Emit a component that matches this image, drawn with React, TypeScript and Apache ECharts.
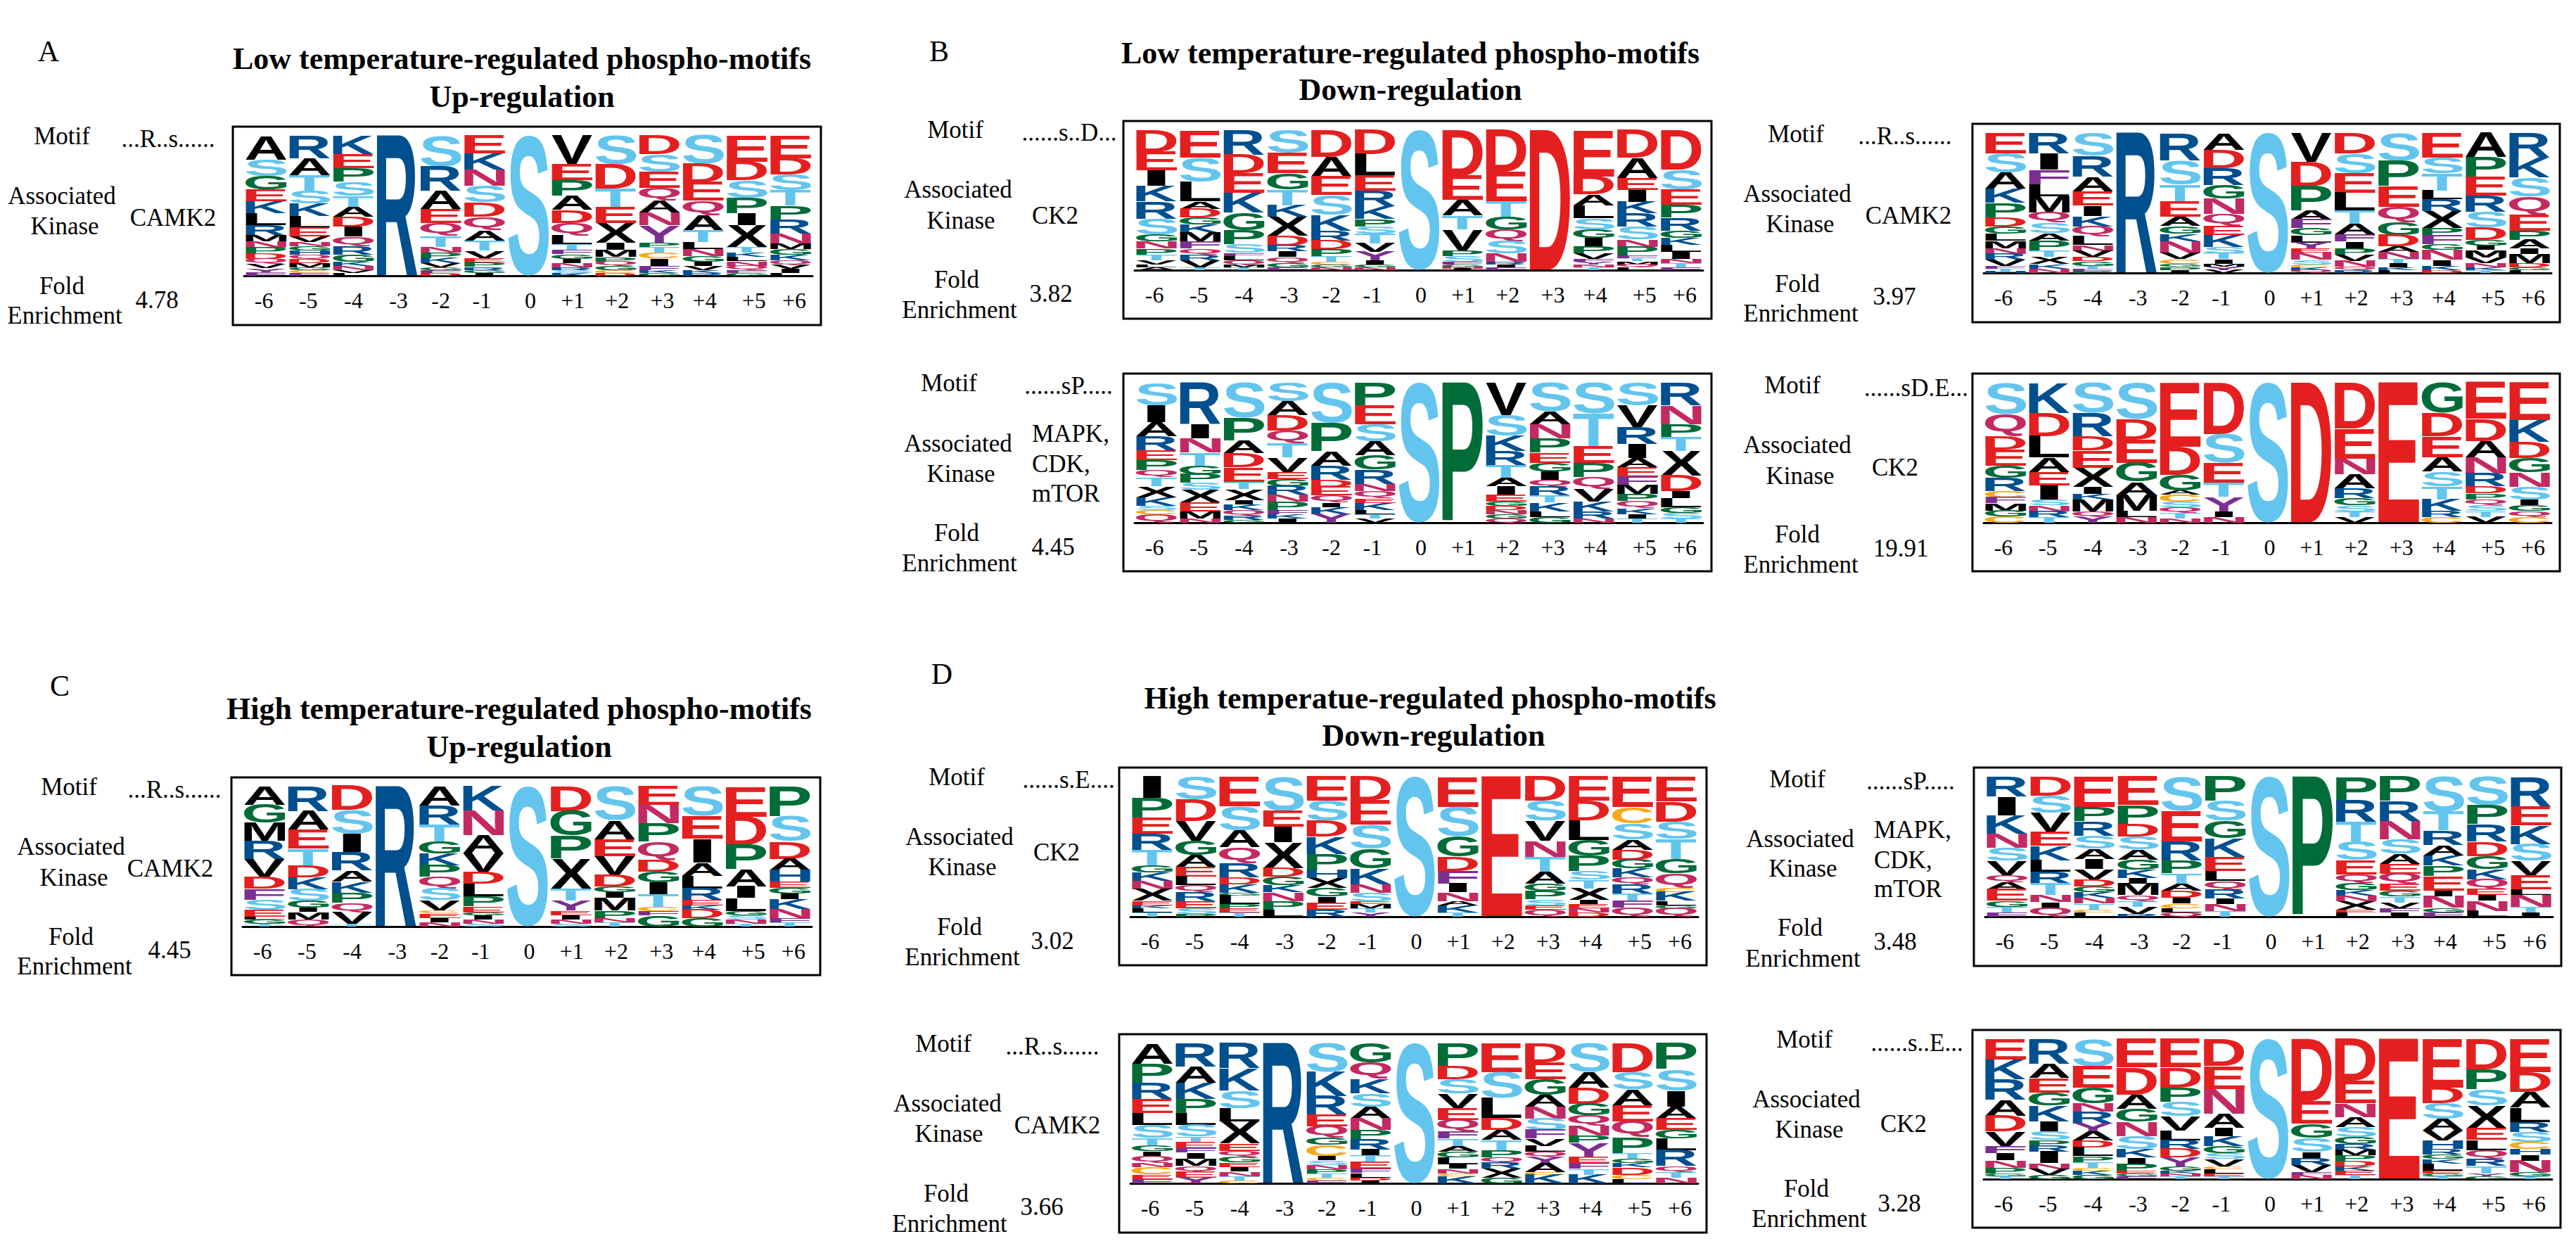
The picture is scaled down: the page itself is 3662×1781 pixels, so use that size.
import React, { useEffect, useRef } from "react";
import * as echarts from "echarts";

const positions = ["-6", "-5", "-4", "-3", "-2", "-1", "0", "+1", "+2", "+3", "+4", "+5", "+6"];

const logoA = [
  "A16 S11 G9 E8 K8 L8 R7 M4 N4 P4 D3.5 Q3.5 V3 Y2.5 F2.5",
  "R16 A12 T11 S9 K9 L8 E6 V4 N3 G3 H3 Q3 D3 M3 G2 C2 F2",
  "K13 E10 P10 S10 T8 A7 D7 I7 Q7 R6 G5 K3 N3 V2 L2",
  "R100",
  "S22 R17 A13 E10 Q9 T8 N4 P4 K3.5 V3 G2 F2 D2",
  "E12 K11 N11 S11 D10 Q9 A7 T7 V5 E3 P3 R2 G2 I2",
  "S100",
  "V20 E11 P11 A10 D9 Q9 L6 T4 F3 G3 I3 N3 R2 S2 K2",
  "S20 D17 T13 E11 X14 I5 M5 P3 Q3 G3 C2 D2",
  "D13 S12 E11 Q9 A8 N9 Y12 P3 T4 C4 I5 F3 K2 G2",
  "S20 D13 E13 Q10 A11 T8 L5 N5 G4 I3 V3 K2 R2",
  "E18 D13 S12 P11 I8 X15 T4 K3 L3 N3 Q3 F2 G2",
  "E16 D12 S11 T11 P10 R10 N7 M4 G4 K4 Q3 V3 I3 L2",
];

const logoB1 = [
  "D15 E13 I11 K11 R12 S11 G5 N5 P4 T4 V3 L2 A2",
  "E19 S17 L14 A5 D6 G5 K6 M6 F5 Q4 R4 V5 T2",
  "R17 D13 E14 K14 G12 P10 S6 F2 L3 Q3 M2 T2",
  "S16 E14 G11 T11 K8 X13 D7 R4 I4 Q4 G3 F2",
  "D19 A14 E13 S14 K11 R7 D6 P5 T4 C2 G2 N2",
  "D17 L15 E11 R11 K9 P5 S5 T7 V6 Y6 I3 G2 N2",
  "S100",
  "D33 E17 A11 T10 V15 P4 S4 F2 G2 N1 I1",
  "D30 E21 T11 G9 Q8 S9 N6 R2 I2 F2",
  "D100",
  "E33 D13 A8 L9 S8 G6 I6 P5 V4 F2 Y2 N2 T2",
  "D19 A14 E8 I8 K8 R9 S9 N5 P6 F2 T2 M2 Q2 L2",
  "D28 S14 E11 P9 R9 G5 K5 L5 I5 N3 T3 F2",
];

const logoB2 = [
  "E14 S13 A11 K10 P10 D6 G5 L5 M5 N4 R4 V4 F2 T2 H1",
  "R14 I11 F10 L8 M11 Q7 S7 A5 P7 T4 X5 K3 N3",
  "S16 R14 A10 E10 I7 K7 Q7 L6 N4 V4 D3 G3 T2 F2 P1",
  "R100",
  "R18 S16 T11 E10 A6 G5 K5 N8 V4 C3 G2 P2 I2",
  "A11 D12 R11 G9 N10 Q8 E6 K8 S4 T4 I3 M2 Y2 V2",
  "S100",
  "V20 D17 P17 A6 F6 G5 L5 Y4 E3 N5 S3 C2 K2 Q2",
  "D14 S13 E13 L12 T9 A7 F5 I5 P4 V4 N4 Q2 R2",
  "S20 P18 E15 Q11 G9 D8 A4 N5 T3 I3 K2 L2",
  "E17 S11 T12 L6 R8 X12 P5 F6 G4 N7 I4 K3 D2",
  "A17 P14 E13 R11 S11 D9 G4 I3 M5 V4 N3 K2 T2",
  "R17 K14 S13 Q13 E11 P6 A6 I4 M6 D3 G2 L2",
];

const logoB3 = [
  "S16 I12 A10 R10 E7 P7 Q5 T6 X8 K6 S3 C3 Q6",
  "R29 I10 N10 T9 G6 P6 S5 X9 E6 M5 N3",
  "S25 P16 A9 D10 E10 T5 X8 I3 K4 Q4 R3 G2",
  "S13 A10 D11 Q9 T10 V10 E5 G5 R6 N5 P6 F3 K3 I3",
  "S28 P20 A10 R10 D5 E6 Q5 I3 K5 Y6",
  "P16 E13 S12 A10 G10 R10 N5 Q5 E3 K5 L3 T3 V3",
  "S100",
  "P100",
  "V23 S15 K11 R10 T9 A6 I6 E5 G3 D3 N3 G3 Q3",
  "S20 A9 N10 P10 E7 G6 I6 Q5 R6 T5 K6 L4 G4",
  "S22 T23 E12 P10 Q8 V9 K7 R5 N3",
  "S16 V15 R12 I10 A6 E7 F6 M6 P5 Q5 K4 I3 T3",
  "R16 N13 P9 T10 X17 D11 I5 L6 G4 S4 T3",
];

const logoB4 = [
  "S21 Q15 D9 E11 G8 R9 C4 F4 M5 G4 C4",
  "K21 D16 L15 A10 E9 I10 S4 N4 R4 T4",
  "S21 R16 D10 E12 X13 I5 K4 M8 Q4 Y4",
  "S25 D14 E16 G13 A9 M11 L4 N4",
  "E46 D20 G11 A3 C5 S4 Q4 T4 N3",
  "D36 S20 E14 T10 Y10 I4 N4",
  "S100",
  "D100",
  "D32 E21 N11 A10 R7 G5 S4 T4 V4",
  "E100",
  "G21 D16 E14 A10 S10 T9 K8 R4 C4",
  "E25 D15 A11 N11 R9 D5 P4 Q4 S4 T4 V4",
  "E26 K15 D11 G10 N10 S9 I4 G4 Q4 C4",
];

const logoC = [
  "A13 G13 M13 R13 V13 D8 F8 S7 E5 L2 G3 T2",
  "R17 A13 E13 T12 D8 K8 S8 G5 I3 M5 Q5",
  "D17 S17 I13 R13 A8 K8 P7 Q7 V8 T2",
  "R100",
  "A13 R13 T12 G8 K8 P8 Q8 S8 V7 C2 E3 I3 N3",
  "K17 N17 A13 V13 D8 L9 P7 E4 G2 I3 N3 S2",
  "S100",
  "D17 G17 P16 X21 T8 Y7 E3 I3 N3 S2",
  "S24 A13 E12 V13 D8 G4 I4 M9 P5 N3 T3",
  "E13 N13 P13 Q13 D8 G8 I8 T9 C3 F3 G8",
  "S21 E16 I17 A9 L9 R8 E4 K3 D6 G6",
  "E21 D20 P17 A12 I8 L9 G3 S3 N3 T2",
  "P21 S17 D12 A8 H8 E4 G4 I4 K7 N6 F3 T3",
];

const logoD1 = [
  "I15 P14 E11 R11 T11 G5 K6 N6 X8 E3 K2 L3 T3",
  "S16 D15 V14 G10 A8 E7 L6 Q5 R6 E5 S4 P2",
  "E21 S17 A12 Q11 R10 D5 K6 G2 L6 P3 E3 T3",
  "S24 E11 I11 X18 D6 G6 K5 N6 P6 L5",
  "E17 S14 D11 K12 P11 H6 X7 G6 I4 E5 R5",
  "D17 E17 S17 G14 K11 N6 S6 E2 M3 T3 Y3",
  "S100",
  "E21 S21 G14 D10 F9 I6 N6 A3 K5 T3",
  "E100",
  "D17 S14 V14 N11 T11 A8 G5 P6 S4 E3 Q5",
  "E17 D14 L14 G11 P11 S6 T6 X8 I3 E3 N3 D3",
  "E21 C11 S11 A7 D7 G6 K6 Q5 R6 T5 F5 Q6",
  "E17 D14 S12 T14 G10 Q10 C3 K6 L3 G2 Q6",
];

const logoD2 = [
  "R14 I13 K13 N10 S9 V10 Q5 A5 E8 G4 T4 F3",
  "D13 S12 V13 E10 K10 L8 R8 T8 N5 I4 Q6",
  "E21 P10 R10 S9 A7 I7 V7 D5 G4 K4 N4 T4 C2 L3",
  "E20 P13 D9 S9 A7 G7 K6 I4 M8 Q4 T4 V5 R2",
  "S24 E21 R13 P9 T7 A5 D5 I4 C3 L3 Q3",
  "P17 S14 G12 K13 E10 L7 Q6 R6 I4 N5 T4",
  "S100",
  "P100",
  "P17 R15 T14 S13 E10 Q6 G5 K4 N4 X6 E2 L3",
  "P17 R14 N13 S10 A7 E7 Q7 E5 G4 T4 V4 F3 I3",
  "S24 T13 R10 A7 K7 P7 E10 I4 N8 G3 F3",
  "S20 P13 R12 D10 G9 K7 Q7 E4 I4 N7 L4",
  "R21 E13 K13 S12 V10 E10 L4 N8 T4 I3",
];

const logoD3 = [
  "A14 P13 R11 E10 L8 S9 T5 G4 I3 Q5 N3 C5 E3 F3",
  "R16 A11 K11 P10 L8 S8 T4 E4 F3 I4 M5 Q4 E4 Y4",
  "R17 K15 S12 L9 X15 E5 Q4 G4 E3 I3 N3 T3 C2",
  "R100",
  "S20 K17 R13 E8 Q8 G5 C8 I3 S3 N3 P3 T3 C2 F2",
  "G13 Q11 K10 S9 A8 N8 P6 R7 I4 T4 E5 F3 L3 D2 I2",
  "S100",
  "P16 D9 S10 V10 E8 Q8 F5 T5 A4 G4 L5 I3 N3 C2 K5",
  "E20 S18 L14 D8 A7 T7 P5 Q4 R4 X6 G4",
  "D13 E12 G11 A8 N8 S8 F6 V5 L4 Q4 Y4 A6 C2 K6",
  "S20 A11 D11 G8 Q7 N7 P5 Y10 E4 F4 T4 K6",
  "D20 S12 A11 E11 Q11 P11 T4 G3 K3 D5 C3 L3",
  "P18 S15 I11 A8 E8 G6 L8 R11 Q4 T4 N4",
];

const logoD4 = [
  "E14 K14 R14 A11 D11 V10 F5 I5 N5 P4 G2 T2",
  "R17 A10 E10 G9 K11 I7 S6 P4 R4 I8 N4 V4 G3",
  "S19 E15 G11 N6 R8 Y6 A6 D5 L6 P4 T4 C2 K3 G3",
  "E20 D19 A10 G9 N10 S9 K6 I4 P5 E2 G2 F2",
  "E20 D14 P10 S10 V10 L7 R6 D6 Y6 G3 K2 N2 T2",
  "D19 E16 N17 A10 I6 K7 G5 S4 V5 C2 L3 E2 T2",
  "S100",
  "D44 E16 G10 S10 I4 R5 V5 F2 N3",
  "D30 E16 N10 A7 S7 G5 R4 M4 P4 D4 K3 E3 T3",
  "E100",
  "E34 D11 S11 A8 V7 H6 R4 G3 K3 L5 E2 G2 T2",
  "D21 P14 S11 X16 E8 L7 Q6 R5 T5 Y2 G2",
  "E23 D14 A11 L10 R7 S7 C5 H4 I4 N8 G3 T2",
];

const logos = [logoA, logoB1, logoB2, logoB3, logoB4, logoC, logoD1, logoD2, logoD3, logoD4];
const motifs = ["...R..s......", "......s..D...", "...R..s......", "......sP.....", "......sD.E...", "...R..s......", "......s.E....", "......sP.....", "...R..s......", "......s..E..."];
const kinases = [["CAMK2"], ["CK2"], ["CAMK2"], ["MAPK,", "CDK,", "mTOR"], ["CK2"], ["CAMK2"], ["CK2"], ["MAPK,", "CDK,", "mTOR"], ["CAMK2"], ["CK2"]];
const foldValues = ["4.78", "3.82", "3.97", "4.45", "19.91", "4.45", "3.02", "3.48", "3.66", "3.28"];
const panelLetters = ["A", "B", "C", "D"];
const titleLines = [
  "Low temperature-regulated phospho-motifs", "Up-regulation",
  "Low temperature-regulated phospho-motifs", "Down-regulation",
  "High temperature-regulated phospho-motifs", "Up-regulation",
  "High temperatue-regulated phospho-motifs", "Down-regulation",
];
const rowLabels = ["Motif", "Associated", "Kinase", "Fold", "Enrichment"];

// Layout only (pixels), kept apart from the data above.
const boxes = [
  [331, 180, 1167, 462], [1597, 172, 2433, 453], [2804, 176, 3639, 458], [1597, 531, 2433, 812], [2804, 531, 3639, 812],
  [329, 1105, 1166, 1386], [1591, 1091, 2426, 1372], [2806, 1091, 3641, 1373], [1591, 1470, 2426, 1752], [2804, 1464, 3640, 1745],
];
// [x, y] of Motif, Associated, Kinase, Fold, Enrichment
const rowLabelPos = [
  [[88, 193], [88, 278], [92, 321], [88, 406], [92, 448]],
  [[1358, 184], [1362, 269], [1366, 313], [1360, 397], [1364, 440]],
  [[2553, 190], [2555, 275], [2559, 318], [2555, 403], [2560, 445]],
  [[1349, 544], [1362, 630], [1366, 673], [1360, 757], [1364, 800]],
  [[2548, 547], [2555, 632], [2559, 676], [2555, 759], [2560, 802]],
  [[98, 1118], [101, 1203], [105, 1247], [101, 1331], [106, 1373]],
  [[1360, 1104], [1364, 1189], [1368, 1232], [1364, 1317], [1368, 1360]],
  [[2555, 1107], [2559, 1192], [2563, 1234], [2559, 1318], [2563, 1362]],
  [[1341, 1483], [1347, 1568], [1349, 1611], [1345, 1696], [1350, 1739]],
  [[2565, 1477], [2568, 1562], [2572, 1605], [2568, 1689], [2572, 1732]],
];
const motifPos = [[239, 197], [1520, 188], [2708, 193], [1519, 548], [2724, 551], [248, 1122], [1519, 1108], [2716, 1110], [1496, 1487], [2725, 1482]];
const kinasePos = [
  [[246, 309]], [[1500, 306]], [[2713, 306]], [[1467, 616], [1467, 659], [1467, 701]], [[2694, 664]],
  [[242, 1234]], [[1502, 1211]], [[2664, 1179], [2664, 1222], [2664, 1263]], [[1503, 1599]], [[2706, 1597]],
];
const foldPos = [[223, 426], [1494, 417], [2693, 421], [1497, 777], [2702, 779], [241, 1350], [1496, 1337], [2694, 1338], [1481, 1715], [2700, 1710]];
const panelLetterPos = [[69, 73], [1335, 73], [85, 975], [1339, 958]];
const titlePos = [[742, 83], [742, 137], [2005, 75], [2005, 127], [738, 1007], [738, 1061], [2033, 992], [2038, 1045]];
const tickShift = [-3, -2, 0, 2, 0, -4, 3, 1, 2, 4, 2, 10, 5];

const LETTER_COLORS: Record<string, string> = {
  R: "#004f8f", K: "#004f8f", H: "#004f8f",
  S: "#63c5ee", T: "#63c5ee",
  D: "#e41f20", E: "#e41f20",
  P: "#006c38", G: "#006c38",
  Q: "#c42a62", N: "#c42a62",
  F: "#7b2f90", Y: "#7b2f90",
  C: "#f8a81c",
};
const LETTERS = "ACDEFGHIKLMNPQRSTVWXY";
const GLYPH_FONT = 'bold 100px "Liberation Sans"';
const SERIF = '"Liberation Serif"';

function measureGlyphs() {
  const ctx = document.createElement("canvas").getContext("2d")!;
  ctx.font = GLYPH_FONT;
  ctx.textAlign = "left";
  ctx.textBaseline = "alphabetic";
  const out: Record<string, any> = {};
  for (const l of LETTERS) {
    const m = ctx.measureText(l);
    out[l] = {
      left: m.actualBoundingBoxLeft,
      right: m.actualBoundingBoxRight,
      asc: m.actualBoundingBoxAscent,
      desc: m.actualBoundingBoxDescent,
      base: (m.fontBoundingBoxAscent - m.fontBoundingBoxDescent) / 2,
    };
  }
  return out;
}

function stackRows(logo: string[]) {
  const rows: number[][] = [];
  logo.forEach((col, i) => {
    const items = col.split(" ").map((t) => [t[0], parseFloat(t.slice(1))] as [string, number]);
    const sum = items.reduce((a, b) => a + b[1], 0);
    let top = 100;
    for (const [l, v] of items) {
      const h = (v / sum) * 100;
      rows.push([i, top - h, top, LETTERS.indexOf(l)]);
      top -= h;
    }
  });
  return rows;
}

export default function App() {
  const ref = useRef<HTMLDivElement>(null);
  useEffect(() => {
    document.body.style.margin = "0";
    document.body.style.background = "#fff";
    const chart = echarts.init(ref.current!, undefined, { renderer: "svg" });
    const glyphs = measureGlyphs();

    const renderItem = (_: any, api: any) => {
      const col = api.value(0);
      const letter = LETTERS[api.value(3)];
      const g = glyphs[letter];
      const [cx, yLow] = api.coord([col, api.value(1)]);
      const [, yHigh] = api.coord([col, api.value(2)]);
      const band = api.size([1, 0])[0];
      const w = band * (letter === "I" ? 0.45 : 0.94);
      const sx = w / (g.left + g.right);
      const sy = (yLow - yHigh) / (g.asc + g.desc);
      return {
        type: "text",
        x: cx - w / 2 + g.left * sx,
        y: yHigh - (g.base - g.asc) * sy,
        scaleX: sx,
        scaleY: sy,
        silent: true,
        style: { text: letter, font: GLYPH_FONT, fill: LETTER_COLORS[letter] || "#000", align: "left", verticalAlign: "middle" },
      };
    };

    const rich: Record<string, any> = {};
    tickShift.forEach((s, i) => {
      rich["o" + i] = {
        fontFamily: SERIF, fontSize: 32, color: "#000",
        padding: [0, s < 0 ? -2 * s : 0, 0, s > 0 ? 2 * s : 0],
      };
    });

    const texts: any[] = [];
    const addText = (text: string, p: number[], font: string, align = "center") =>
      texts.push({ type: "text", x: p[0], y: p[1], silent: true, style: { text, font, fill: "#000", align, verticalAlign: "middle" } });
    const labelFont = `35px ${SERIF}`;
    const titleFont = `bold 44px ${SERIF}`;

    panelLetters.forEach((t, i) => addText(t, panelLetterPos[i], `42px ${SERIF}`));
    titleLines.forEach((t, i) => addText(t, titlePos[i], titleFont));
    logos.forEach((_, i) => {
      rowLabels.forEach((t, j) => addText(t, rowLabelPos[i][j], labelFont));
      addText(motifs[i], motifPos[i], labelFont);
      const multi = kinases[i].length > 1;
      kinases[i].forEach((t, j) => addText(t, kinasePos[i][j], labelFont, multi ? "left" : "center"));
      addText(foldValues[i], foldPos[i], labelFont);
      const b = boxes[i];
      texts.push({
        type: "rect", silent: true,
        shape: { x: b[0], y: b[1], width: b[2] - b[0], height: b[3] - b[1] },
        style: { fill: "none", stroke: "#000", lineWidth: 3 },
      });
    });

    chart.setOption({
      animation: false,
      backgroundColor: "#fff",
      grid: boxes.map((b) => ({ left: b[0] + 16, top: b[1] + 13, width: b[2] - b[0] - 28, height: 199 })),
      xAxis: boxes.map((_, i) => ({
        type: "category", gridIndex: i, data: positions, offset: 4,
        axisTick: { show: false },
        axisLine: { lineStyle: { color: "#000", width: 3 } },
        axisLabel: {
          interval: 0, margin: 15, rich,
          formatter: (v: string) => `{o${positions.indexOf(v)}|${v}}`,
        },
      })),
      yAxis: boxes.map((_, i) => ({ type: "value", gridIndex: i, min: 0, max: 100, show: false })),
      series: logos.map((logo, i) => ({
        type: "custom", xAxisIndex: i, yAxisIndex: i, clip: false, silent: true,
        encode: { x: 0, y: [1, 2] }, renderItem, data: stackRows(logo),
      })),
      graphic: { elements: texts },
    });
    return () => chart.dispose();
  }, []);
  return <div ref={ref} style={{ width: 3662, height: 1781 }} />;
}
